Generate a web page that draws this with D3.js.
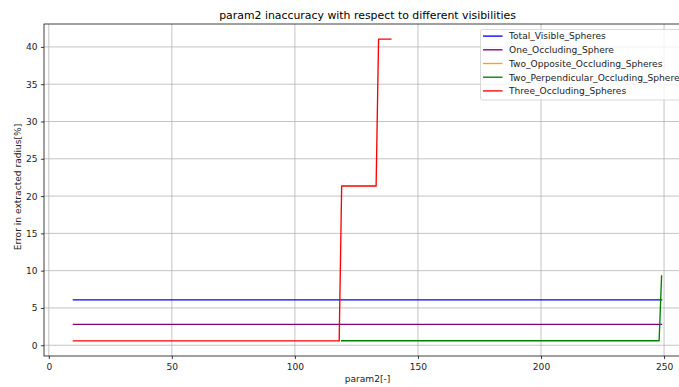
<!DOCTYPE html>
<html>
<head>
<meta charset="utf-8">
<script src="https://cdn.jsdelivr.net/npm/d3@7"></script>
<style>
  html, body { margin: 0; padding: 0; background: #fff; }
  svg { display: block; font-family: "DejaVu Sans", sans-serif; }
</style>
</head>
<body>
<svg id="chart" width="679" height="387"></svg>
<script>
// Series: breakpoints of each step curve (param2 vs. radius error in %)
const seriesNames = [
  "Total_Visible_Spheres",
  "One_Occluding_Sphere",
  "Two_Opposite_Occluding_Spheres",
  "Two_Perpendicular_Occluding_Spheres",
  "Three_Occluding_Spheres"
];
const seriesColors = ["blue", "purple", "orange", "green", "red"];

const totalVisibleX = [10, 249];
const totalVisibleY = [6.08, 6.08];

const oneOccludingX = [10, 249];
const oneOccludingY = [2.8, 2.8];

const twoOppositeX = [];
const twoOppositeY = [];

const twoPerpendicularX = [119, 248, 249];
const twoPerpendicularY = [0.6, 0.6, 9.3];

const threeOccludingX = [10, 118, 119, 133, 134, 139];
const threeOccludingY = [0.58, 0.58, 21.35, 21.35, 41.05, 41.05];

const xTicks = [0, 50, 100, 150, 200, 250];
const yTicks = [0, 5, 10, 15, 20, 25, 30, 35, 40];

const titleText = "param2 inaccuracy with respect to different visibilities";
const xLabel = "param2[-]";
const yLabel = "Error in extracted radius[%]";

const seriesX = [totalVisibleX, oneOccludingX, twoOppositeX, twoPerpendicularX, threeOccludingX];
const seriesY = [totalVisibleY, oneOccludingY, twoOppositeY, twoPerpendicularY, threeOccludingY];
const series = seriesNames.map((name, i) => ({
  name, color: seriesColors[i],
  points: seriesX[i].map((x, j) => [x, seriesY[i][j]])
}));

const svg = d3.select("#chart");
const plot = { left: 44, right: 691, top: 24, bottom: 356 };
const fs = 9.1;           // base font size (px)
const titleFs = 10.9;

// Autoscale with a 5% margin on each side
const allX = seriesX.flat(), allY = seriesY.flat();
function padded(vals) {
  const [lo, hi] = d3.extent(vals);
  const m = (hi - lo) * 0.05;
  return [lo - m, hi + m];
}
const x = d3.scaleLinear().domain(padded(allX)).range([plot.left, plot.right]);
const y = d3.scaleLinear().domain(padded(allY)).range([plot.bottom, plot.top]);

// Grid
const grid = svg.append("g");
grid.selectAll("line.gx").data(xTicks).join("line")
  .attr("x1", d => x(d)).attr("x2", d => x(d))
  .attr("y1", plot.top).attr("y2", plot.bottom)
  .attr("stroke", "#b0b0b0").attr("stroke-width", 0.75);
grid.selectAll("line.gy").data(yTicks).join("line")
  .attr("y1", d => y(d)).attr("y2", d => y(d))
  .attr("x1", plot.left).attr("x2", plot.right)
  .attr("stroke", "#b0b0b0").attr("stroke-width", 0.75);

// Lines
const line = d3.line().x(d => x(d[0])).y(d => y(d[1]));
svg.append("g").selectAll("path").data(series.filter(s => s.points.length)).join("path")
  .attr("d", d => line(d.points))
  .attr("fill", "none")
  .attr("stroke", d => d.color)
  .attr("stroke-width", 1.35)
  .attr("stroke-linejoin", "round")
  .attr("stroke-linecap", "square");

// Axes
const xAxis = d3.axisBottom(x).tickValues(xTicks).tickSize(3.1).tickPadding(3.1).tickFormat(d3.format("d"));
const yAxis = d3.axisLeft(y).tickValues(yTicks).tickSize(3.1).tickPadding(3.3).tickFormat(d3.format("d"));

const gx = svg.append("g").attr("transform", `translate(0,${plot.bottom})`).call(xAxis);
const gy = svg.append("g").attr("transform", `translate(${plot.left},0)`).call(yAxis);
[gx, gy].forEach(g => {
  g.select(".domain").remove();
  g.selectAll(".tick line").attr("stroke", "#000").attr("stroke-width", 0.75);
  g.selectAll(".tick text").attr("fill", "#222").style("font-size", fs + "px")
    .style("font-family", "DejaVu Sans, sans-serif");
});
gx.selectAll(".tick text").attr("dy", null).attr("y", 13.5);

// Spines
svg.append("rect")
  .attr("x", plot.left).attr("y", plot.top)
  .attr("width", plot.right - plot.left).attr("height", plot.bottom - plot.top)
  .attr("fill", "none").attr("stroke", "#000").attr("stroke-width", 0.75);

// Title and axis labels
svg.append("text").attr("x", (plot.left + plot.right) / 2).attr("y", 19.3).attr("text-anchor", "middle")
  .style("font-size", titleFs + "px").attr("fill", "#000").text(titleText);
svg.append("text").attr("x", (plot.left + plot.right) / 2).attr("y", 381.5)
  .attr("text-anchor", "middle").style("font-size", fs + "px").attr("fill", "#222").text(xLabel);
svg.append("text")
  .attr("transform", `translate(21,${(plot.top + plot.bottom) / 2 - 3}) rotate(-90)`)
  .attr("text-anchor", "middle").style("font-size", fs + "px").attr("fill", "#222").text(yLabel);

// Legend
const legend = svg.append("g").attr("transform", "translate(480.5,29.5)");
legend.append("rect").attr("x", 0).attr("y", 0).attr("width", 207).attr("height", 70.5)
  .attr("rx", 2).attr("fill", "#fff").attr("fill-opacity", 0.8)
  .attr("stroke", "#cccccc").attr("stroke-width", 0.75);
const rows = legend.selectAll("g.row").data(series).join("g")
  .attr("transform", (d, i) => `translate(0,${6.6 + i * 13.7})`);
rows.append("line").attr("x1", 2.5).attr("x2", 22).attr("y1", 0).attr("y2", 0)
  .attr("stroke", d => d.color).attr("stroke-width", 1.35);
rows.append("text").attr("x", 28.5).attr("y", 3.3).style("font-size", fs + "px")
  .attr("fill", "#222").text(d => d.name);
</script>
</body>
</html>
